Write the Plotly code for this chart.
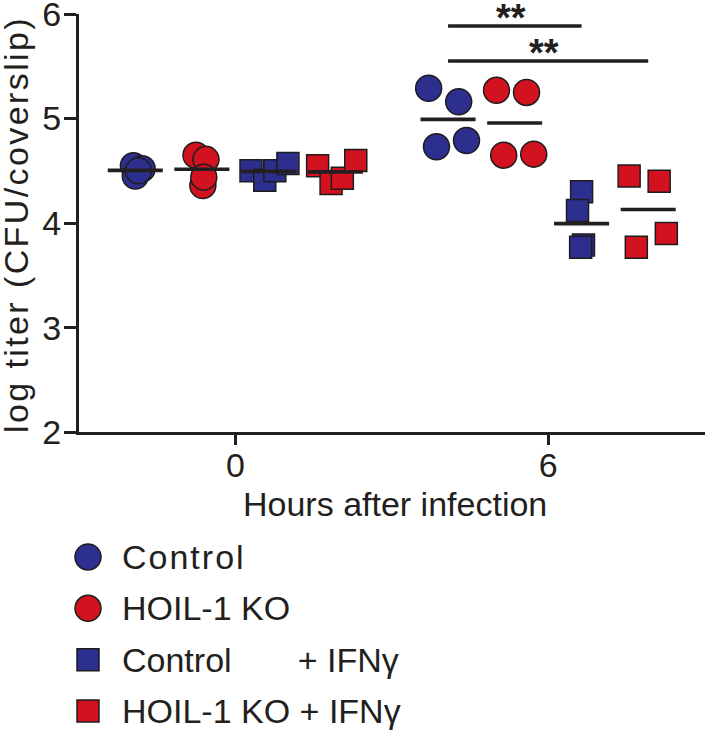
import numpy as np
import plotly.graph_objects as go

# ---------------- data ----------------
time_labels = ["0", "6"]
group_names = ["Control", "HOIL-1 KO", "Control + IFNγ", "HOIL-1 KO + IFNγ"]

ctrl_0 = [4.55, 4.52, 4.45, 4.50]
hoil_0 = [4.65, 4.61, 4.36, 4.44]
ctrl_ifn_0 = [4.50, 4.41, 4.50, 4.57]
hoil_ifn_0 = [4.55, 4.38, 4.43, 4.60]

ctrl_6 = [5.29, 5.16, 4.73, 4.79]
hoil_6 = [5.27, 5.25, 4.65, 4.66]
ctrl_ifn_6 = [4.30, 4.12, 3.79, 3.77]
hoil_ifn_6 = [4.45, 4.40, 3.77, 3.90]

y_ticks = [2, 3, 4, 5, 6]
sig_labels = ["**", "**"]

# ---------------- layout helpers (positions / styles) ----------------
group_offset = [-0.32, -0.107, 0.107, 0.32]
jitter = {
    (0, 0): [-0.006, 0.022, 0.0, 0.010],
    (0, 1): [-0.019, 0.013, 0.003, 0.006],
    (0, 2): [-0.057, -0.013, 0.019, 0.061],
    (0, 3): [-0.057, -0.014, 0.022, 0.065],
    (1, 0): [-0.062, 0.034, -0.037, 0.059],
    (1, 1): [-0.058, 0.038, -0.035, 0.061],
    (1, 2): [0.0, -0.013, 0.006, -0.003],
    (1, 3): [-0.061, 0.035, -0.038, 0.058],
}
BLUE = "#2d2f8f"
RED = "#d3121f"
EDGE = "#1e1c1d"
colors = [BLUE, RED, BLUE, RED]
symbols = ["circle", "circle", "square", "square"]
sizes = [26, 26, 22, 22]
FONT = "Liberation Sans, Arial, Helvetica, sans-serif"
FS = 34
INK = "#231f20"
half_mean = 0.088

data = [[ctrl_0, hoil_0, ctrl_ifn_0, hoil_ifn_0],
        [ctrl_6, hoil_6, ctrl_ifn_6, hoil_ifn_6]]

fig = go.Figure()

for t in range(2):
    for g in range(4):
        vals = data[t][g]
        cx = t + group_offset[g]
        xs = [cx + j for j in jitter[(t, g)]]
        fig.add_trace(go.Scatter(
            x=xs, y=vals, mode="markers", showlegend=False,
            marker=dict(symbol=symbols[g], size=sizes[g], color=colors[g],
                        line=dict(color=EDGE, width=1.5)),
            hoverinfo="skip"))
for t in range(2):
    for g in range(4):
        m = float(np.mean(data[t][g]))
        cx = t + group_offset[g]
        fig.add_trace(go.Scatter(
            x=[cx - half_mean, cx + half_mean], y=[m, m], mode="lines",
            line=dict(color=INK, width=3.6), showlegend=False, hoverinfo="skip"))

# significance brackets (between 6 h groups)
sig_pairs = [(0, 2, 5.885), (0, 3, 5.55)]
for (a, b, yy), lab in zip(sig_pairs, sig_labels):
    xa = 1 + group_offset[a]
    xb = 1 + group_offset[b]
    fig.add_trace(go.Scatter(x=[xa, xb], y=[yy, yy], mode="lines",
                             line=dict(color=INK, width=3.6),
                             showlegend=False, hoverinfo="skip", cliponaxis=False))
    fig.add_annotation(x=(xa + xb) / 2 - 0.012, y=yy, xref="x", yref="y",
                       text="<b>" + lab + "</b>",
                       showarrow=False, yanchor="bottom", yshift=-15,
                       font=dict(family=FONT, size=38, color=INK))

# custom legend on hidden axes
leg_rows = [0, 1, 2, 3]
for g in range(4):
    fig.add_trace(go.Scatter(
        x=[88], y=[leg_rows[g]], xaxis="x2", yaxis="y2", mode="markers",
        marker=dict(symbol=symbols[g], size=sizes[g] if g < 2 else 22,
                    color=colors[g], line=dict(color=EDGE, width=1.5)),
        showlegend=False, hoverinfo="skip"))
leg_text = ['<span style="letter-spacing:2px">Control</span>', "HOIL-1 KO",
            "Control" + "\u00a0" * 7 + "+ IFNγ", "HOIL-1 KO + IFNγ"]
for g in range(4):
    fig.add_annotation(x=120, y=leg_rows[g], xref="x2", yref="y2",
                       text=leg_text[g], showarrow=False,
                       xanchor="left", yanchor="middle", yshift=0,
                       font=dict(family=FONT, size=FS, color=INK))

W, H = 708, 731
x0, x1 = 79 / W, 704.5 / W
ytop, ybot = 1 - 14 / H, 1 - 432.3 / H

fig.add_annotation(x=16 / W, y=1 - 225 / H, xref="paper", yref="paper",
                   text='<span style="letter-spacing:2.4px">log titer (CFU/coverslip)</span>',
                   textangle=-90,
                   showarrow=False, xanchor="center", yanchor="middle",
                   font=dict(family=FONT, size=FS, color=INK))
fig.add_annotation(x=395 / W, y=1 - 504 / H, xref="paper", yref="paper",
                   text="Hours after infection", showarrow=False,
                   xanchor="center", yanchor="middle",
                   font=dict(family=FONT, size=FS, color=INK))

fig.update_layout(
    width=W, height=H, margin=dict(l=0, r=0, t=0, b=0),
    paper_bgcolor="white", plot_bgcolor="white",
    font=dict(family=FONT, size=FS, color=INK),
    xaxis=dict(domain=[x0, x1], range=[-0.5, 1.5], tickmode="array",
               tickvals=[0, 1], ticktext=time_labels, showline=True,
               linecolor=INK, linewidth=3, ticks="outside", ticklen=10,
               tickwidth=3, tickcolor=INK, showgrid=False, zeroline=False,
               automargin=False, tickfont=dict(size=FS),
               ticklabeloverflow="allow", ticklabelstandoff=-9),
    yaxis=dict(domain=[ybot, ytop], range=[2, 6], tickmode="array",
               tickvals=y_ticks, showline=True, linecolor=INK, linewidth=3,
               ticks="outside", ticklen=12, tickwidth=3, tickcolor=INK,
               showgrid=False, zeroline=False, automargin=False,
               tickfont=dict(size=FS), ticklabeloverflow="allow",
               ticklabelstandoff=-4),
    xaxis2=dict(domain=[0, 0.25], range=[0, 0.25 * W], visible=False,
                anchor="y2", fixedrange=True),
    yaxis2=dict(domain=[0, 0.3], range=[3.39, -0.883], visible=False,
                anchor="x2", fixedrange=True),
)

fig.write_html(
    "out.html",
    config={"displayModeBar": False, "staticPlot": True},
    post_script="document.body.style.margin='0';document.body.style.overflow='hidden';",
)
